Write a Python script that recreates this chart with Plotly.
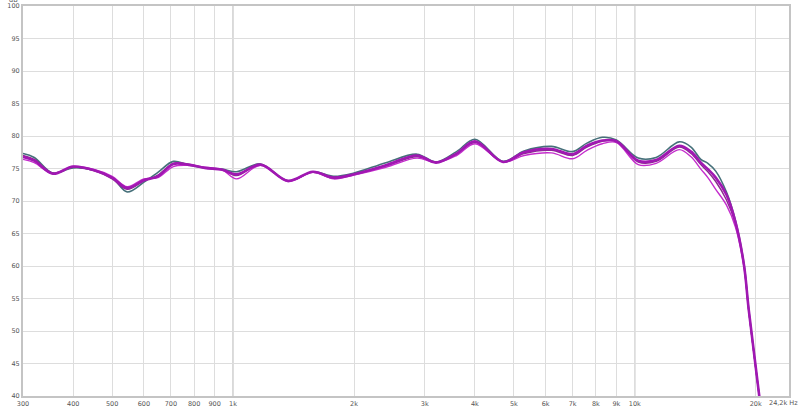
import plotly.graph_objects as go

freq = [300, 320, 356, 400, 453, 500, 545, 600, 650, 710, 770, 850, 940, 1020,
        1170, 1370, 1580, 1780, 2000, 2400, 2870, 3200, 3600, 4000, 4700, 5300,
        6200, 7000, 7600, 8300, 9000, 10200, 11300, 12900, 13800, 14600, 15200,
        15900, 16900, 17800, 18700, 19200, 20500]

teal = [77.3, 76.7, 74.3, 75.1, 74.7, 73.6, 71.4, 72.9, 74.4, 76.1, 75.6, 75.1,
        74.9, 74.5, 75.7, 73.1, 74.5, 73.8, 74.3, 75.9, 77.2, 76.0, 77.6, 79.5,
        76.1, 77.7, 78.4, 77.6, 78.9, 79.8, 79.4, 76.6, 76.7, 79.1, 78.3, 76.4,
        75.8, 74.6, 71.4, 67.0, 60.3, 53.5, 39.0]

purple = [77.0, 76.4, 74.3, 75.2, 74.6, 73.4, 71.8, 73.1, 74.0, 75.8, 75.7, 75.1,
          74.8, 73.9, 75.6, 73.1, 74.4, 73.5, 74.1, 75.4, 76.8, 76.0, 77.2, 79.0,
          76.0, 77.3, 77.8, 77.0, 78.3, 79.2, 79.2, 76.0, 76.1, 78.3, 77.3, 75.6,
          74.5, 73.0, 70.2, 66.5, 60.0, 53.3, 39.0]

magenta = [76.4, 75.9, 74.2, 75.3, 74.8, 73.8, 72.2, 73.4, 73.6, 75.3, 75.5, 75.2,
           74.8, 73.4, 75.5, 73.0, 74.4, 73.4, 74.0, 75.2, 76.6, 75.9, 77.0, 78.8,
           76.0, 77.0, 77.4, 76.5, 77.8, 78.8, 79.0, 75.6, 75.8, 77.9, 76.8, 74.9,
           73.6, 71.8, 69.4, 66.0, 59.8, 53.2, 39.0]

thick = [76.8, 76.2, 74.2, 75.3, 74.7, 73.6, 72.0, 73.2, 73.8, 75.7, 75.6, 75.1,
         74.8, 74.1, 75.6, 73.1, 74.5, 73.6, 74.1, 75.5, 77.0, 75.9, 77.3, 79.2,
         76.0, 77.5, 78.0, 77.2, 78.5, 79.3, 79.2, 76.2, 76.3, 78.5, 77.6, 75.9,
         74.9, 73.6, 71.0, 66.8, 60.1, 53.4, 39.0]

x_tickvals = [300, 400, 500, 600, 700, 800, 900, 1000, 2000, 3000, 4000, 5000,
              6000, 7000, 8000, 9000, 10000, 20000]
x_ticktext = ["300", "400", "500", "600", "700", "800", "900", "1k", "2k", "3k",
              "4k", "5k", "6k", "7k", "8k", "9k", "10k", "20k"]
x_end_label = "24,2k Hz"
y_tickvals = [40, 45, 50, 55, 60, 65, 70, 75, 80, 85, 90, 95, 100]

fig = go.Figure()
series = [
    (teal, "#46707a", 1.6),
    (purple, "#8a2a8e", 1.4),
    (magenta, "#c42ccc", 1.4),
    (thick, "#a018b2", 2.6),
]
for vals, col, w in series:
    fig.add_trace(go.Scatter(x=freq, y=vals, mode="lines",
                             line=dict(color=col, width=w, shape="spline", smoothing=1.0),
                             showlegend=False, hoverinfo="skip"))

for v in [1000, 10000]:
    fig.add_shape(type="line", xref="x", yref="paper", x0=v, x1=v, y0=0, y1=1,
                  line=dict(color="#a8a8a8", width=1), layer="below")

fig.add_annotation(text="dB", xref="paper", yref="paper", x=0, y=1, xanchor="right",
                   yanchor="bottom", xshift=-3, yshift=0, showarrow=False,
                   font=dict(size=6.5, color="#555555", family="DejaVu Sans"))
fig.add_annotation(text=x_end_label, xref="paper", yref="paper", x=1, y=0,
                   xanchor="right", yanchor="top", xshift=11, yshift=-1, showarrow=False,
                   font=dict(size=6.5, color="#555555", family="DejaVu Sans"))

fig.update_layout(
    template="none",
    width=800, height=406,
    margin=dict(l=23, r=11, t=6, b=10),
    paper_bgcolor="white", plot_bgcolor="white",
    font=dict(family="DejaVu Sans", size=6.5, color="#555555"),
    xaxis=dict(type="log", range=[2.4771, 4.3838], tickvals=x_tickvals,
               ticktext=x_ticktext, showgrid=True, gridcolor="#dddddd", gridwidth=1,
               showline=True, linecolor="#c4c4c4", linewidth=2, mirror=True,
               ticks="", ticklen=0, automargin=False, zeroline=False,
               tickfont=dict(size=6.5, color="#555555")),
    yaxis=dict(range=[40, 100], tickvals=y_tickvals, showgrid=True,
               gridcolor="#dddddd", gridwidth=1, showline=True, linecolor="#c4c4c4",
               linewidth=2, mirror=True, ticks="", automargin=False, zeroline=False,
               tickfont=dict(size=6.5, color="#555555")),
)

fig.write_html("out.html", config={"displayModeBar": False},
               post_script="document.body.style.margin='0';document.body.style.padding='0';document.body.style.overflow='hidden';")
